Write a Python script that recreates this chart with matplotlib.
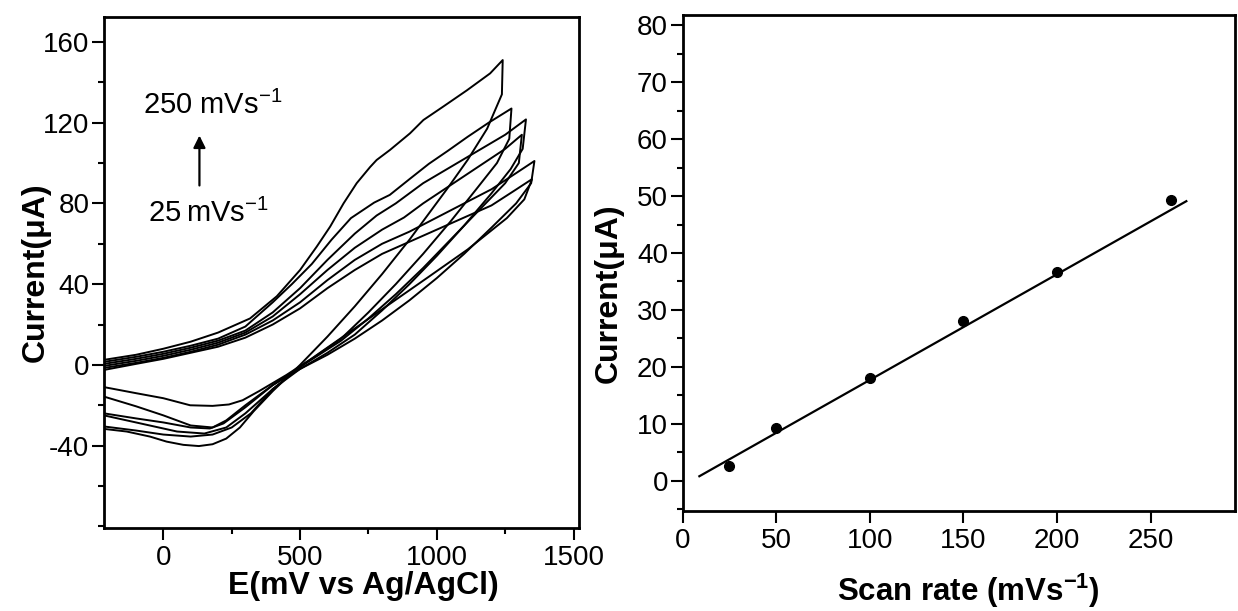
import matplotlib
matplotlib.use("Agg")
from matplotlib import pyplot as plt
from matplotlib.ticker import MultipleLocator

plt.rcParams["font.family"] = ["Liberation Sans", "DejaVu Sans"]
plt.rcParams["mathtext.fontset"] = "custom"
plt.rcParams["mathtext.rm"] = "Liberation Sans"
plt.rcParams["mathtext.bf"] = "Liberation Sans:bold"
plt.rcParams["mathtext.it"] = "Liberation Sans:italic"
plt.rcParams["axes.unicode_minus"] = False

# ---- CV loops (E in mV, I in uA), forward sweep then reverse sweep ----
e_fwd_250 = [-217, -100, 0, 100, 200, 317, 415, 500, 561, 610, 659, 707, 756, 780, 829, 902, 951, 1024, 1110, 1195, 1241]
i_fwd_250 = [2.5, 5, 8, 11.5, 16, 23, 34, 47, 58.6, 68.5, 80, 90, 98, 101.5, 106.5, 114.7, 121.3, 128, 136, 144.4, 151]
e_rev_250 = [1241, 1238, 1184, 1113, 1042, 971, 900, 800, 700, 600, 500, 400, 330, 280, 230, 180, 130, 73, 12, -49, -134, -217]
i_rev_250 = [151, 134, 117, 101.6, 88, 75, 62, 45, 29, 14, 0, -13, -23, -31, -36.5, -39.3, -40.2, -39.6, -38, -35.5, -33, -31.7]

e_fwd_200 = [-217, -100, 0, 100, 200, 300, 400, 470, 543, 615, 686, 771, 828, 900, 971, 1040, 1113, 1190, 1273]
i_fwd_200 = [1.5, 4, 6.5, 9.5, 13, 19, 31, 40, 50, 62, 72.7, 80.4, 84.2, 92, 99.6, 106, 113, 120, 127]
e_rev_200 = [1273, 1265, 1220, 1150, 1050, 950, 850, 750, 650, 500, 400, 320, 250, 180, 100, 0, -100, -217]
i_rev_200 = [127, 112, 100, 88, 71, 55, 40, 26, 13, -1, -12, -24, -31, -34.5, -35.5, -34.5, -32.5, -30.5]

e_fwd_150 = [-217, -100, 0, 100, 200, 300, 400, 500, 600, 700, 780, 850, 950, 1050, 1150, 1250, 1326]
i_fwd_150 = [0.5, 3, 5.5, 8.5, 12, 17, 26, 38, 52, 65, 74, 80, 90, 98, 106, 114, 121.6]
e_rev_150 = [1326, 1314, 1270, 1200, 1100, 1000, 900, 800, 700, 600, 500, 400, 300, 230, 150, 50, -100, -217]
i_rev_150 = [121.6, 107, 97, 85, 69, 54, 40, 27, 15, 6, -2, -12, -24, -31, -34, -33, -28.5, -25]

e_fwd_100 = [-217, -100, 0, 100, 200, 300, 400, 500, 600, 700, 800, 880, 950, 1050, 1150, 1250, 1311]
i_fwd_100 = [-0.5, 2, 4.5, 7.5, 11, 16, 24, 35, 47, 58, 67, 73, 80, 89, 98, 107, 114]
e_rev_100 = [1311, 1300, 1250, 1150, 1050, 950, 850, 750, 650, 500, 400, 300, 220, 170, 100, 0, -100, -217]
i_rev_100 = [114, 100, 90, 76, 62, 48, 35, 23, 12, -1, -10, -21, -29, -31.5, -31, -28.5, -26.5, -24]

e_fwd_50 = [-217, -100, 0, 100, 200, 300, 400, 500, 600, 700, 800, 900, 1000, 1100, 1200, 1290, 1357]
i_fwd_50 = [-1.5, 1, 3.5, 6.5, 10, 15, 22, 31, 42, 52, 60, 66, 73, 80, 87, 95, 101]
e_rev_50 = [1357, 1345, 1290, 1200, 1100, 1000, 900, 800, 700, 600, 500, 400, 300, 230, 180, 100, 0, -100, -217]
i_rev_50 = [101, 90, 80, 68, 55, 43, 32, 22, 13, 5, -2, -10, -20, -27.5, -31, -30, -25, -20.5, -15.7]

e_fwd_25 = [-217, -100, 0, 100, 200, 300, 400, 500, 600, 700, 800, 900, 1000, 1100, 1200, 1280, 1348]
i_fwd_25 = [-2.5, 0.5, 3, 6, 9, 13.5, 20, 28, 38, 47, 55, 61, 67, 73, 79, 86, 92]
e_rev_25 = [1348, 1320, 1256, 1113, 971, 828, 686, 543, 450, 350, 290, 240, 180, 98, 0, -100, -217]
i_rev_25 = [92, 82, 72.7, 57.2, 43.7, 30.2, 16.7, 3.2, -5, -13, -17.5, -19.6, -20.3, -20, -16.5, -14, -11]

# ---- peak current vs scan rate ----
scan_rate = [25, 50, 100, 150, 200, 261]
peak_current = [2.6, 9.2, 18.0, 28.0, 36.6, 49.3]
fit_x = [9, 269]
fit_y = [0.8, 49.1]

loops = [
    (e_fwd_250, i_fwd_250, e_rev_250, i_rev_250),
    (e_fwd_200, i_fwd_200, e_rev_200, i_rev_200),
    (e_fwd_150, i_fwd_150, e_rev_150, i_rev_150),
    (e_fwd_100, i_fwd_100, e_rev_100, i_rev_100),
    (e_fwd_50, i_fwd_50, e_rev_50, i_rev_50),
    (e_fwd_25, i_fwd_25, e_rev_25, i_rev_25),
]

fig = plt.figure(figsize=(12.38, 6.11), dpi=100)
ax1 = fig.add_axes([0.0840, 0.1358, 0.3837, 0.8363])
ax2 = fig.add_axes([0.5513, 0.1637, 0.4463, 0.8118])

TICK_FS = 20
LABEL_FS = 23

for ef, i_f, er, i_r in loops:
    ax1.plot(list(ef) + list(er[1:]), list(i_f) + list(i_r[1:]), color="black", lw=1.4)

ax1.set_xlim(-217, 1520)
ax1.set_ylim(-80.8, 172.3)
ax1.set_xticks([0, 500, 1000, 1500])
ax1.set_yticks([-40, 0, 40, 80, 120, 160])
ax1.xaxis.set_minor_locator(MultipleLocator(250))
ax1.yaxis.set_minor_locator(MultipleLocator(20))

ax1.text(-74, 128.7, "250 mVs$^{-1}$", fontsize=21, va="center", ha="left")
ax1.text(-55, 75, "25\u2009mVs$^{-1}$", fontsize=21, va="center", ha="left")
ax1.annotate("", xy=(132, 115), xytext=(132, 87.5),
             arrowprops=dict(arrowstyle="-|>", color="black", lw=1.6, mutation_scale=18))

ax1.set_xlabel("E(mV vs Ag/AgCl)", fontsize=LABEL_FS, fontweight="bold")
ax1.set_ylabel("Current(\u03bcA)", fontsize=LABEL_FS, fontweight="bold")
ax1.xaxis.set_label_coords(0.545, -0.084)
ax1.yaxis.set_label_coords(-0.112, 0.5)

ax2.plot(fit_x, fit_y, color="black", lw=1.6)
ax2.plot(scan_rate, peak_current, "o", color="black", markersize=7)
ax2.set_xlim(0, 295)
ax2.set_ylim(-5.3, 81.8)
ax2.set_xticks([0, 50, 100, 150, 200, 250])
ax2.set_yticks(range(0, 81, 10))
ax2.yaxis.set_minor_locator(MultipleLocator(5))
ax2.set_xlabel("Scan rate (mVs$^{\\mathbf{-1}}$)", fontsize=22.5, fontweight="bold")
ax2.set_ylabel("Current(\u03bcA)", fontsize=LABEL_FS, fontweight="bold")
ax2.xaxis.set_label_coords(0.518, -0.123)
ax2.yaxis.set_label_coords(-0.106, 0.44)

for ax in (ax1, ax2):
    for sp in ax.spines.values():
        sp.set_linewidth(2)
    ax.tick_params(which="major", direction="out", length=8.5, width=1.5,
                   labelsize=TICK_FS, top=False, right=False, pad=2)
    ax.tick_params(which="minor", direction="out", length=4.5, width=1.5,
                   top=False, right=False)
    ax.tick_params(axis="x", which="major", pad=3.5)

fig.savefig("out.png", dpi=100)
